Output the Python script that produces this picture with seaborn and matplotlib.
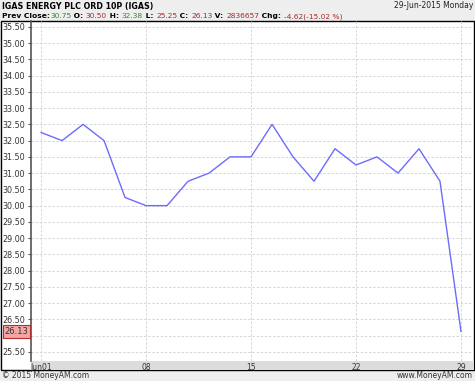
import matplotlib
matplotlib.use("Agg")
import matplotlib.pyplot as plt
import seaborn as sns
import pandas as pd
from matplotlib.patches import Rectangle

# ---- data ----
dates = ["Jun01", "02", "03", "04", "05", "08", "09", "10", "11", "12",
         "15", "16", "17", "18", "19", "22", "23", "24", "25", "26", "29"]
prices = [32.25, 32.00, 32.50, 32.00, 30.25, 30.00, 30.00, 30.75, 31.00, 31.50,
          31.50, 32.50, 31.50, 30.75, 31.75, 31.25, 31.50, 31.00, 31.75, 30.75, 26.13]
xtick_labels = ["Jun01", "08", "15", "22", "29"]
ytick_values = [25.5 + 0.5 * i for i in range(21)]
last_price = 26.13

title = "IGAS ENERGY PLC ORD 10P (IGAS)"
date_text = "29-Jun-2015 Monday"
footer_left = "© 2015 MoneyAM.com"
footer_right = "www.MoneyAM.com"
stats = [("Prev Close:", "black", "bold"), ("30.75", "#2e8b2e", "normal"),
         (" O: ", "black", "bold"), ("30.50", "#a52a2a", "normal"),
         (" H: ", "black", "bold"), ("32.38", "#2e8b2e", "normal"),
         (" L: ", "black", "bold"), ("25.25", "#a52a2a", "normal"),
         (" C: ", "black", "bold"), ("26.13", "#a52a2a", "normal"),
         (" V: ", "black", "bold"), ("2836657", "#a52a2a", "normal"),
         (" Chg: ", "black", "bold"), ("-4.62(-15.02 %)", "#a52a2a", "normal")]

df = pd.DataFrame({"idx": range(len(prices)), "price": prices})

W, H = 475, 381
fig = plt.figure(figsize=(W / 100, H / 100), dpi=100, facecolor="#eeeeee")

def fx(px):
    return px / W

def fy(py):
    return 1 - py / H

FS = 5.5

# background axes for frame and label strip
bg = fig.add_axes([0, 0, 1, 1], zorder=-10)
bg.set_xlim(0, W)
bg.set_ylim(H, 0)
bg.axis("off")
bg.add_patch(Rectangle((0.5, 20.5), 473.5, 349.5, facecolor="white",
                       edgecolor="black", linewidth=1))
bg.add_patch(Rectangle((31, 361), 443, 9, facecolor="#dcdcdc", edgecolor="none"))

ax = fig.add_axes([fx(31), fy(361), fx(443), fy(21) - fy(361)], zorder=1)
ax.set_facecolor("none")
sns.lineplot(data=df, x="idx", y="price", ax=ax, color="#6b6bff", linewidth=1.0)

ax.set_xlim(-0.48, 20.62)
ax.set_ylim(25.22, 35.68)

xt = [dates.index(l) for l in xtick_labels]
ax.set_xticks(xt)
ax.set_xticklabels(xtick_labels, fontsize=FS, color="#333333")
ax.tick_params(axis="x", length=0, pad=1.2)

ax.set_yticks(ytick_values)
ax.set_yticklabels(["" if abs(v - 26.0) < 1e-9 else f"{v:.2f}" for v in ytick_values],
                   fontsize=FS + 0.3, color="#333333")
ax.tick_params(axis="y", length=2, width=0.8, pad=2.2, color="#555555")

ax.grid(True, color="#d0d0d0", linestyle=(0, (3, 2)), linewidth=0.6)
ax.set_axisbelow(True)
for s in ["top", "right", "bottom"]:
    ax.spines[s].set_visible(False)
ax.spines["left"].set_color("#555555")
ax.spines["left"].set_linewidth(1.2)
ax.set_xlabel("")
ax.set_ylabel("")

# last price box
ax.text(-0.006, last_price, f"{last_price:.2f}", transform=ax.get_yaxis_transform(),
        ha="right", va="center", fontsize=FS + 0.5, color="#333333",
        bbox=dict(boxstyle="square,pad=0.2", facecolor="#f4a6a6",
                  edgecolor="#b03030", linewidth=0.8), zorder=5, clip_on=False)

# header
bg.text(2, 8.5, title, ha="left", va="baseline", fontsize=5.7, fontweight="bold",
        color="black")
bg.text(473, 8.5, date_text, ha="right", va="baseline", fontsize=FS, color="#222222")
BASE = 18.0
prev = bg.text(2, BASE, stats[0][0], ha="left", va="baseline", fontsize=5.4,
               fontweight=stats[0][2], color=stats[0][1])
for txt, col, wt in stats[1:]:
    prev = bg.annotate(txt, xy=(1, BASE), xycoords=(prev, "data"), ha="left",
                       va="baseline", fontsize=5.4, fontweight=wt, color=col,
                       annotation_clip=False)

# footer
bg.text(2, 375.5, footer_left, ha="left", va="center", fontsize=FS, color="#333333")
bg.text(473, 375.5, footer_right, ha="right", va="center", fontsize=FS, color="#333333")

fig.savefig("out.png", dpi=100, facecolor=fig.get_facecolor())
